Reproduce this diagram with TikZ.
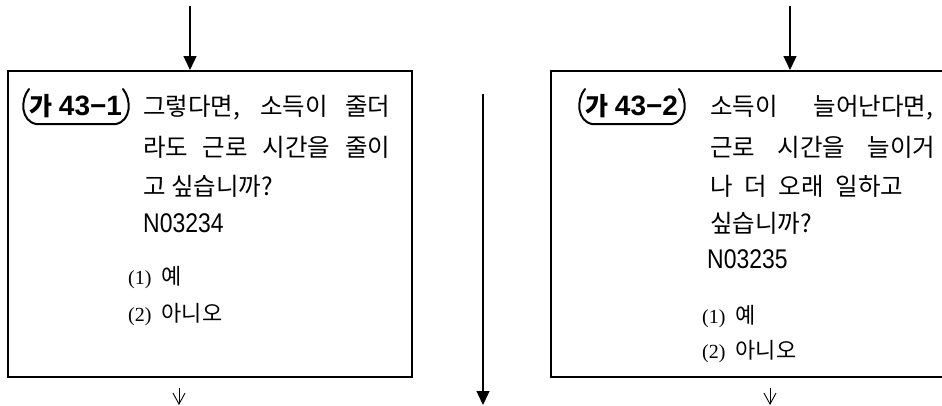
\documentclass[tikz,border=0pt]{standalone}
\usepackage{fontspec}
\setmainfont{Noto Sans CJK KR}
\newfontfamily\kr{Noto Sans CJK KR}
\newfontfamily\arialf{Liberation Sans}
\newfontfamily\serif{Liberation Serif}
\usetikzlibrary{arrows.meta}
\tikzset{
  qbox/.style={draw, line width=2pt, rectangle, inner sep=0pt, anchor=north west},
  qline/.style={anchor=west, inner sep=0pt, font=\kr\fontsize{24.5}{28}\selectfont},
  qcode/.style={anchor=west, inner sep=0pt, font=\arialf\fontsize{27}{28}\selectfont},
  qopt/.style={anchor=west, inner sep=0pt},
  qlabel/.style={inner sep=0pt},
  bracket/.style={line width=2pt, line cap=round},
  inarrow/.style={line width=1.3pt, -{Triangle[length=14pt,width=13pt]}},
  outarrow/.style={line width=0.9pt, -{Straight Barb[length=11pt,width=12pt,line width=0.9pt]}},
}
\newcommand{\optnum}[1]{{\serif\fontsize{20}{22}\selectfont(#1)}}
\newcommand{\optkr}[1]{{\kr\fontsize{22}{24}\selectfont #1}}
\newcommand{\lbl}[1]{{\kr\bfseries\fontsize{25}{28}\selectfont 가}\hspace{6pt}{\arialf\bfseries\fontsize{28}{30}\selectfont #1}}
\begin{document}
\begin{tikzpicture}[x=1pt,y=-1pt]
\useasboundingbox (0,0) rectangle (942,405);
% boxes
\node[qbox, minimum width=404pt, minimum height=306pt] (b1) at (7,70) {};
\node[qbox, minimum width=400pt, minimum height=306pt] (b2) at (550,70) {};
% incoming arrows
\coordinate (t1) at (190,6);
\coordinate (t2) at (790,6);
\draw[inarrow] (t1) -- (t1 |- b1.north);
\draw[inarrow] (t2) -- (t2 |- b2.north);
% middle long arrow
\coordinate (m1) at (483,94);
\coordinate (m2) at (483,405);
\draw[inarrow] (m1) -- (m2);
% outgoing small arrows
\coordinate (o1) at (179,388);
\coordinate (o1e) at (179,405);
\coordinate (o2) at (770,388);
\coordinate (o2e) at (770,405);
\draw[outarrow] (o1) -- (o1e);
\draw[outarrow] (o2) -- (o2e);
% left box content
\node[qlabel] (l1) at (76,106) {\lbl{43−1}};
\draw[bracket] (29,89) .. controls (20,100) and (21,121) .. (36,124) -- (116,124) .. controls (131,121) and (132,100) .. (123,89);
\node[qline] (a1) at (143,108) {\makebox[247pt][s]{그렇다면, 소득이 줄더}};
\node[qline] (a2) at (143,147) {\makebox[247pt][s]{라도 근로 시간을 줄이}};
\node[qline] (a3) at (143,186) {고 싶습니까?};
\node[qcode] (a4) at (143,223) {\scalebox{0.85}[1]{N03234}};
\node[qopt] (a5) at (128,278) {\optnum{1}\hspace{10pt}\optkr{예}};
\node[qopt] (a6) at (128,315) {\optnum{2}\hspace{10pt}\optkr{아니오}};
% right box content
\node[qlabel] (l2) at (632,106) {\lbl{43−2}};
\draw[bracket] (585,89) .. controls (576,100) and (577,121) .. (592,124) -- (672,124) .. controls (687,121) and (688,100) .. (679,89);
\node[qline] (c1) at (710,108) {\makebox[223pt][s]{소득이 \hspace{10pt}늘어난다면,}};
\node[qline] (c2) at (710,147) {\makebox[225pt][s]{근로 시간을 늘이거}};
\node[qline] (c3) at (710,186) {\makebox[193pt][s]{나 더 오래 일하고}};
\node[qline] (c4) at (710,223) {싶습니까?};
\node[qcode] (c5) at (707,259) {\scalebox{0.85}[1]{N03235}};
\node[qopt] (c6) at (702,317) {\optnum{1}\hspace{10pt}\optkr{예}};
\node[qopt] (c7) at (702,352) {\optnum{2}\hspace{10pt}\optkr{아니오}};
\end{tikzpicture}
\end{document}
